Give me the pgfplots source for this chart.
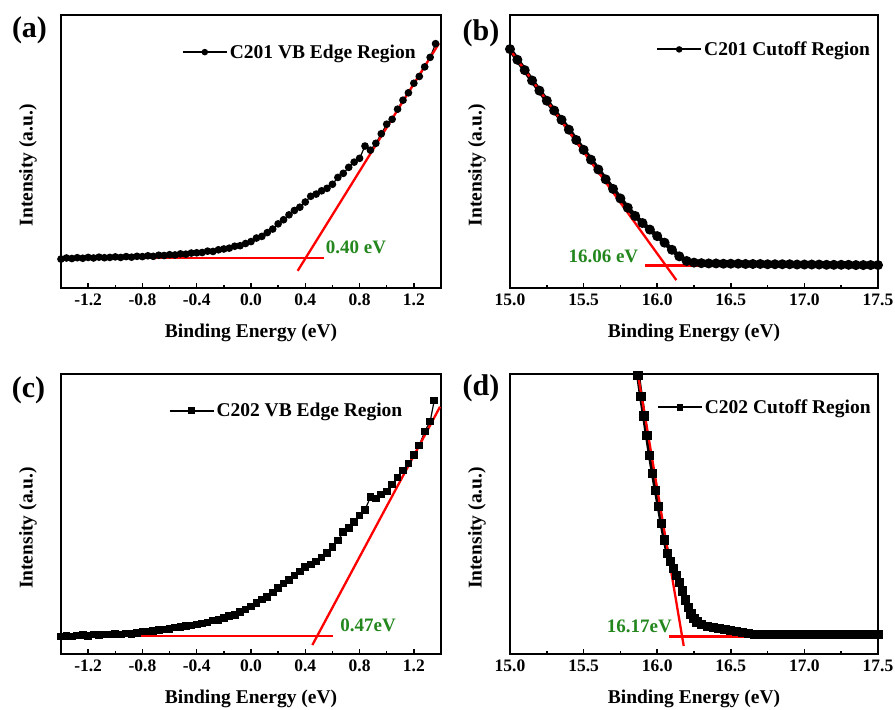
\documentclass[border=0pt]{standalone}
\usepackage{pgfplots}
\pgfplotsset{compat=1.18}
\usepackage{fontspec}
\setmainfont{Liberation Serif}
\definecolor{lblgreen}{RGB}{35,135,30}

% shared look of the four UPS panels
\pgfplotsset{
  panel/.style={
    scale only axis, anchor=north west,
    ymin=0, ymax=100, ytick=\empty,
    tick align=inside, xtick pos=bottom,
    axis line style={line width=2pt},
    major tick length=5pt, minor tick length=3pt,
    every tick/.style={black, line width=1.5pt},
    minor x tick num=1,
    xticklabel style={font=\fontsize{17.5}{18}\selectfont\bfseries, yshift=-2pt,
      /pgf/number format/.cd, fixed, fixed zerofill, precision=1, assume math mode=true},
    xlabel={Binding Energy (eV)},
    ylabel={Intensity (a.u.)},
    label style={font=\fontsize{19.5}{20}\selectfont\bfseries},
    x label style={at={([yshift=-45pt]axis description cs:0.5,0)}, anchor=center},
    y label style={at={([xshift=-33pt]axis description cs:0,0.45)}, anchor=center},
    legend style={draw=none, fill=none, inner sep=0pt, anchor=east,
      font=\fontsize{19.5}{20}\selectfont\bfseries},
    legend image code/.code={\draw[mark repeat=2,mark phase=2,#1,line width=2pt,mark size=2.2pt]
      plot coordinates {(0pt,0pt) (22pt,0pt) (44pt,0pt)};},
  },
  fitline/.style={red, line width=2.3pt, no markers, forget plot},
}
\tikzset{note/.style={text=lblgreen, inner sep=0pt, font=\fontsize{19}{20}\selectfont\bfseries}}

\begin{document}
\begin{tikzpicture}
\useasboundingbox (0pt,0pt) rectangle (895pt,-710pt);

% (a) C201 valence band edge
\begin{axis}[panel, at={(61pt,-15pt)}, width=380pt, height=273pt,
    xmin=-1.4, xmax=1.4, xtick={-1.2,-0.8,...,1.25},
    legend style={at={(axis description cs:0.939,0.864)}}]
  \addplot[black, line width=1.2pt, mark=*, mark size=3.2pt] coordinates {
    (-1.40,10.6) (-1.36,11.0) (-1.32,10.8) (-1.28,11.1) (-1.24,10.9) (-1.20,11.2)
    (-1.16,11.0) (-1.12,11.3) (-1.08,11.1) (-1.04,11.2) (-1.00,11.4) (-0.96,11.2)
    (-0.92,11.5) (-0.88,11.3) (-0.84,11.6) (-0.80,11.5) (-0.76,11.8) (-0.72,11.6)
    (-0.68,12.0) (-0.64,11.9) (-0.60,12.2) (-0.56,12.1) (-0.52,12.5) (-0.48,12.4)
    (-0.44,12.8) (-0.40,12.9) (-0.36,13.0) (-0.32,13.5) (-0.28,13.4) (-0.24,14.0)
    (-0.20,14.3) (-0.16,14.6) (-0.12,15.3) (-0.08,15.5) (-0.04,16.3) (0.00,17.0)
    (0.04,18.3) (0.08,18.9) (0.12,20.3) (0.16,21.6) (0.20,23.5) (0.24,25.0)
    (0.28,26.8) (0.32,28.4) (0.36,29.6) (0.40,31.5) (0.44,33.6) (0.48,34.4)
    (0.52,35.6) (0.56,36.5) (0.60,38.0) (0.64,40.5) (0.68,42.0) (0.72,44.2)
    (0.76,46.1) (0.80,47.5) (0.84,52.0) (0.88,50.5) (0.92,53.0) (0.96,56.5)
    (1.00,60.0) (1.04,61.8) (1.08,65.5) (1.12,68.8) (1.16,71.5) (1.20,75.0)
    (1.24,77.5) (1.28,81.0) (1.32,84.5) (1.36,89.5)};
  \addlegendentry{C201 VB Edge Region}
  \addplot[fitline] coordinates {(-1.4,10.9) (0.54,10.9)};
  \addplot[fitline] coordinates {(0.344,6.3) (1.385,89.6)};
  \node[note, anchor=west] at (axis cs:0.55,15.0) {0.40 eV};
\end{axis}

% (b) C201 secondary electron cutoff
\begin{axis}[panel, at={(510pt,-15pt)}, width=368pt, height=273pt,
    xmin=15, xmax=17.5, xtick={15,15.5,...,17.5},
    legend style={at={(axis description cs:0.984,0.874)}}]
  \addplot[black, line width=4.5pt, mark=*, mark size=2.6pt] coordinates {
    (15.00,87.5) (15.05,83.6) (15.10,79.8) (15.15,76.0) (15.20,72.3) (15.25,68.6)
    (15.30,65.0) (15.35,61.6) (15.40,58.0) (15.45,54.2) (15.50,50.6) (15.55,47.0)
    (15.60,43.4) (15.65,39.8) (15.70,36.3) (15.75,32.8) (15.80,29.4) (15.85,26.4)
    (15.90,23.8) (15.95,21.4) (16.00,19.0) (16.05,16.6) (16.10,14.0) (16.15,11.6)
    (16.20,9.9) (16.25,9.3) (16.30,9.1) (16.35,9.0) (16.40,9.0) (16.45,8.9)
    (16.50,8.9) (16.55,8.9) (16.60,8.8) (16.65,8.8) (16.70,8.8) (16.75,8.7)
    (16.80,8.7) (16.85,8.7) (16.90,8.7) (16.95,8.6) (17.00,8.6) (17.05,8.6)
    (17.10,8.6) (17.15,8.5) (17.20,8.5) (17.25,8.5) (17.30,8.5) (17.35,8.4)
    (17.40,8.4) (17.45,8.4) (17.50,8.4)};
  \addlegendentry{C201 Cutoff Region}
  \addplot[fitline] coordinates {(15.0,87.3) (16.13,2.9)};
  \addplot[fitline] coordinates {(15.92,8.2) (17.46,8.2)};
  \node[note, anchor=east] at (axis cs:15.872,11.5) {16.06 eV};
\end{axis}

% (c) C202 valence band edge
\begin{axis}[panel, at={(61pt,-374pt)}, width=380pt, height=280pt,
    xmin=-1.4, xmax=1.4, xtick={-1.2,-0.8,...,1.25},
    legend style={at={(axis description cs:0.904,0.869)}}]
  \addplot[black, line width=1.2pt, mark=square*, mark size=3.2pt] coordinates {
    (-1.40,6.2) (-1.36,6.5) (-1.32,6.3) (-1.28,6.6) (-1.24,6.8) (-1.20,6.5)
    (-1.16,6.9) (-1.12,6.7) (-1.08,7.0) (-1.04,6.9) (-1.00,7.1) (-0.96,7.0)
    (-0.92,7.3) (-0.88,7.2) (-0.84,7.6) (-0.80,8.0) (-0.76,8.1) (-0.72,8.3)
    (-0.68,8.6) (-0.64,8.7) (-0.60,8.9) (-0.56,9.4) (-0.52,9.6) (-0.48,10.0)
    (-0.44,10.2) (-0.40,10.5) (-0.36,10.9) (-0.32,11.2) (-0.28,11.9) (-0.24,12.2)
    (-0.20,12.8) (-0.16,13.6) (-0.12,14.0) (-0.08,15.0) (-0.04,15.9) (0.00,17.0)
    (0.04,18.2) (0.08,19.5) (0.12,20.4) (0.16,22.0) (0.20,23.6) (0.24,25.2)
    (0.28,26.4) (0.32,28.0) (0.36,29.5) (0.40,31.0) (0.44,32.0) (0.48,33.0)
    (0.52,34.5) (0.56,36.0) (0.60,38.2) (0.64,40.5) (0.68,43.5) (0.72,45.0)
    (0.76,47.2) (0.80,49.5) (0.84,51.5) (0.88,56.0) (0.92,55.5) (0.96,57.0)
    (1.00,58.0) (1.04,60.5) (1.08,63.0) (1.12,65.5) (1.16,68.0) (1.20,71.0)
    (1.24,74.5) (1.28,79.5) (1.32,83.0) (1.35,90.5)};
  \addlegendentry{C202 VB Edge Region}
  \addplot[fitline] coordinates {(-1.4,6.4) (0.603,6.4)};
  \addplot[fitline] coordinates {(0.452,3.2) (1.393,88.3)};
  \node[note, anchor=west] at (axis cs:0.657,10.4) {0.47eV};
\end{axis}

% (d) C202 secondary electron cutoff
\begin{axis}[panel, at={(510pt,-374pt)}, width=368pt, height=280pt,
    xmin=15, xmax=17.5, xtick={15,15.5,...,17.5},
    legend style={at={(axis description cs:0.986,0.881)}}]
  \addplot[black, line width=4pt, mark=square*, mark size=2.6pt] coordinates {
    (15.86,103.0) (15.87,99.5) (15.89,92.0) (15.91,85.0) (15.93,78.0) (15.95,71.0)
    (15.97,64.5) (15.99,58.5) (16.01,52.6) (16.03,46.5) (16.05,40.7) (16.07,36.0)
    (16.09,33.0) (16.11,30.5) (16.13,28.0) (16.15,25.5) (16.17,22.5) (16.19,19.3)
    (16.21,16.5) (16.23,14.3) (16.25,12.7) (16.27,11.4) (16.30,10.4) (16.34,9.8)
    (16.38,9.5) (16.42,9.2) (16.46,8.8) (16.50,8.4) (16.54,8.0) (16.58,7.6)
    (16.62,7.3) (16.66,7.1) (16.70,7.0) (16.75,7.0) (16.80,7.0) (16.85,7.0)
    (16.90,7.0) (16.95,7.0) (17.00,6.9) (17.05,6.9) (17.10,6.9) (17.15,6.9)
    (17.20,6.9) (17.25,6.9) (17.30,6.9) (17.35,6.9) (17.40,6.9) (17.45,6.9)
    (17.50,6.9)};
  \addlegendentry{C202 Cutoff Region}
  \addplot[fitline] coordinates {(15.87,99.6) (16.18,2.9)};
  \addplot[fitline] coordinates {(16.08,6.2) (17.5,6.2)};
  \node[note, anchor=east] at (axis cs:16.10,9.75) {16.17eV};
\end{axis}

\node[font=\fontsize{30}{30}\selectfont\bfseries] at (29.5pt,-30.5pt) {(a)};
\node[font=\fontsize{30}{30}\selectfont\bfseries] at (481pt,-33pt) {(b)};
\node[font=\fontsize{30}{30}\selectfont\bfseries] at (28.5pt,-390pt) {(c)};
\node[font=\fontsize{30}{30}\selectfont\bfseries] at (481pt,-388pt) {(d)};
\end{tikzpicture}
\end{document}
